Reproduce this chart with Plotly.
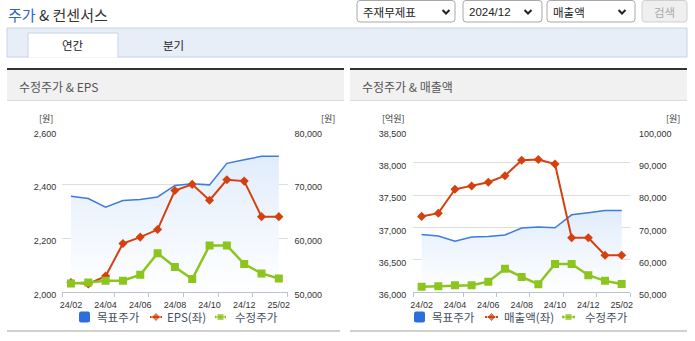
import plotly.graph_objects as go

# ---------------- data ----------------
months = ['24/02', '24/03', '24/04', '24/05', '24/06', '24/07', '24/08',
          '24/09', '24/10', '24/11', '24/12', '25/01', '25/02']
target_price = [67800, 67350, 65750, 67000, 67200, 67650, 69800,
                70100, 69900, 73900, 74550, 75200, 75200]          # 목표주가 (원)
adj_price = [51600, 51750, 52100, 52100, 53200, 57200, 54650,
             52400, 58650, 58650, 55200, 53450, 52500]             # 수정주가 (원)
eps = [2035, 2030, 2059, 2180, 2204, 2232, 2377,
       2400, 2341, 2417, 2412, 2280, 2280]                         # EPS (원)
revenue = [37170, 37220, 37590, 37640, 37700, 37800, 38040,
           38050, 37980, 36840, 36840, 36570, 36570]               # 매출액 (억원)

legend_names = ['목표주가', '수정주가']
left_names = ['EPS(좌)', '매출액(좌)']
panel_titles = ['수정주가 & EPS', '수정주가 & 매출액']

# ---------------- style ----------------
W, H = 695, 341
BLUE = '#3d7bdc'
BLUE_LEG = '#2a6fdc'
RED = '#d5400e'
GREEN = '#8cc51d'
GRID = '#dddddd'
AXIS = '#b9c3d3'
KR = 'Noto Sans CJK KR'
NUM = 'Liberation Sans'

xi = list(range(len(months)))
tick_idx = xi[::2]
tick_text = months[::2]
tick_marks = [-0.5] + [i + 0.5 for i in range(2, len(months), 2)]


def dx(a, b):
    return [a / W, b / W]


def dy(top, bottom):
    return [1 - bottom / H, 1 - top / H]


fig = go.Figure()

panels = [
    dict(x='x', xt='x3', yb='y', yl='y2', yg='y5', vals=eps, lr=[2000, 2600], ld=200,
         rr=[50000, 80000], rd=10000, xd=(62.3, 287.5), name=left_names[0],
         lstand=5, rstand=6),
    dict(x='x2', xt='x4', yb='y3', yl='y4', yg='y6', vals=revenue, lr=[36000, 38500], ld=500,
         rr=[50000, 100000], rd=10000, xd=(413.3, 630.0), name=left_names[1],
         lstand=6, rstand=8),
]

for p in panels:
    fig.add_trace(go.Scatter(
        x=xi, y=target_price, xaxis=p['x'], yaxis=p['yb'], mode='lines',
        line=dict(color=BLUE, width=1.5), fill='tozeroy',
        fillgradient=dict(type='vertical',
                          colorscale=[[0, 'rgb(255,255,255)'], [1, 'rgb(224,236,251)']],
                          start=p['rr'][0], stop=76000),
        showlegend=False, hoverinfo='skip', name=legend_names[0]))
    fig.add_trace(go.Scatter(
        x=xi, y=p['vals'], xaxis=p['x'], yaxis=p['yl'], mode='lines+markers',
        line=dict(color=RED, width=2), marker=dict(symbol='diamond', size=7, color=RED),
        showlegend=False, name=p['name']))
    fig.add_trace(go.Scatter(
        x=xi, y=adj_price, xaxis=p['x'], yaxis=p['yg'], mode='lines+markers',
        line=dict(color=GREEN, width=2.5), marker=dict(symbol='square', size=8, color=GREEN),
        showlegend=False, name=legend_names[1]))
    # empty trace to create tick-mark overlay axis
    fig.add_trace(go.Scatter(x=[None], y=[None], xaxis=p['xt'], yaxis=p['yb'],
                             showlegend=False, hoverinfo='skip'))

# ---------------- legends (pixel overlay axes x5/y7) ----------------
leg_rows = [
    dict(sq=(79, 90), t1=95, red=(150, 162), t2=165, grn=(215, 226), t3=233, name=left_names[0]),
    dict(sq=(414, 425), t1=430, red=(485, 498), t2=502, grn=(562, 575), t3=583, name=left_names[1]),
]
LY = 317
for r in leg_rows:
    a, b = r['red']
    fig.add_trace(go.Scatter(x=[a, (a + b) / 2, b], y=[LY, LY, LY], xaxis='x5', yaxis='y7',
                             mode='lines+markers', line=dict(color=RED, width=2),
                             marker=dict(symbol='diamond', size=[0, 7, 0], color=RED),
                             showlegend=False, hoverinfo='skip'))
    a, b = r['grn']
    fig.add_trace(go.Scatter(x=[a, (a + b) / 2, b], y=[LY, LY, LY], xaxis='x5', yaxis='y7',
                             mode='lines+markers', line=dict(color=GREEN, width=2.5),
                             marker=dict(symbol='square', size=[0, 7, 0], color=GREEN),
                             showlegend=False, hoverinfo='skip'))

# ---------------- axes ----------------
tickfont = dict(family=NUM, size=9, color='#333333')
layout_axes = {}
for i, p in enumerate(panels):
    xk = 'xaxis' if p['x'] == 'x' else 'xaxis' + p['x'][1:]
    xtk = 'xaxis' + p['xt'][1:]
    ybk = 'yaxis' if p['yb'] == 'y' else 'yaxis' + p['yb'][1:]
    ylk = 'yaxis' + p['yl'][1:]
    ygk = 'yaxis' + p['yg'][1:]
    layout_axes[xk] = dict(domain=dx(*p['xd']), anchor=p['yb'], range=[-0.5, 12.5],
                           tickmode='array', tickvals=tick_idx, ticktext=tick_text,
                           showline=True, linecolor=AXIS, linewidth=1, showgrid=False,
                           zeroline=False, ticks='', tickfont=tickfont, fixedrange=True,
                           ticklabelstandoff=4, automargin=False)
    layout_axes[xtk] = dict(overlaying=p['x'], anchor=p['yb'], range=[-0.5, 12.5],
                            tickmode='array', tickvals=tick_marks, ticks='outside', ticklen=4,
                            tickcolor=AXIS, showticklabels=False, showline=False,
                            showgrid=False, zeroline=False, fixedrange=True, automargin=False)
    layout_axes[ybk] = dict(domain=dy(130.5, 292), anchor=p['x'], side='right',
                            range=p['rr'], tick0=p['rr'][0], dtick=p['rd'], tickformat=',d',
                            showgrid=True, gridcolor=GRID, gridwidth=1, zeroline=False,
                            showline=False, ticks='', tickfont=tickfont, fixedrange=True,
                            ticklabelstandoff=p['rstand'], ticklabelshift=3, automargin=False)
    layout_axes[ylk] = dict(overlaying=p['yb'], anchor=p['x'], side='left', range=p['lr'],
                            tick0=p['lr'][0], dtick=p['ld'], tickformat=',d', showgrid=False,
                            zeroline=False, showline=False, ticks='', tickfont=tickfont,
                            fixedrange=True, ticklabelstandoff=p['lstand'], ticklabelshift=3,
                            automargin=False)
    layout_axes[ygk] = dict(overlaying=p['yb'], anchor=p['x'], range=p['rr'], visible=False,
                            fixedrange=True, automargin=False)

layout_axes['xaxis5'] = dict(domain=[0, 1], range=[0, W], anchor='y7', visible=False,
                             fixedrange=True, automargin=False)
layout_axes['yaxis7'] = dict(domain=[0, 1], range=[H, 0], anchor='x5', visible=False,
                             fixedrange=True, automargin=False)


# ---------------- page decoration ----------------
def rrect(x0, y0, x1, y1, r):
    return (f"M{x0 + r},{y0} L{x1 - r},{y0} Q{x1},{y0} {x1},{y0 + r} L{x1},{y1 - r} "
            f"Q{x1},{y1} {x1 - r},{y1} L{x0 + r},{y1} Q{x0},{y1} {x0},{y1 - r} "
            f"L{x0},{y0 + r} Q{x0},{y0} {x0 + r},{y0} Z")


shapes = []
annos = []


def S(**k):
    k.setdefault('xref', 'x5')
    k.setdefault('yref', 'y7')
    k.setdefault('layer', 'below')
    shapes.append(k)


def A(x, y, text, size=12, color='#333333', family=KR, xanchor='left', pad=1):
    annos.append(dict(x=x, y=y, xref='x5', yref='y7', text=text, showarrow=False,
                      xanchor=xanchor, yanchor='middle', borderpad=pad,
                      font=dict(family=family, size=size, color=color)))


# title
A(6, 14, "<span style='color:#2e63cf'>주가</span> & 컨센서스", size=15, color='#333333')

# dropdowns
dropdowns = [('주재무제표', 357, 455, 446), ('2024/12', 463, 542, 528), ('매출액', 547, 635, 622)]
for label, x0, x1, cx in dropdowns:
    S(type='path', path=rrect(x0, 0.5, x1, 22, 3), fillcolor='white',
      line=dict(color='#a8a8a8', width=1))
    S(type='path', path=f"M{cx - 3.5},{10} L{cx},{13.5} L{cx + 3.5},{10}",
      fillcolor='rgba(0,0,0,0)', line=dict(color='#222222', width=2))
    A(x0 + 4, 12, label, size=11.5, color='#222222',
      family=NUM if label[0].isdigit() else KR)
S(type='path', path=rrect(642, 0.5, 687, 22, 3), fillcolor='#efefef',
  line=dict(color='#cfcfcf', width=1))
A(664.5, 12, '검색', size=11.5, color='#aaaaaa', xanchor='center')

# tab bar
S(type='rect', x0=7, y0=28, x1=687, y1=57, fillcolor='#e8eef8', line=dict(color='#c8d3e6', width=1))
S(type='rect', x0=28, y0=33, x1=118, y1=57.6, fillcolor='white', line=dict(width=0))
S(type='path', path="M28,57.5 L28,33 L118,33 L118,57.5", fillcolor='rgba(0,0,0,0)',
  line=dict(color='#c8d3e6', width=1))
A(73, 45, '연간', size=11.5, color='#222222', xanchor='center')
A(173, 45, '분기', size=11.5, color='#222222', xanchor='center')

# panel headers and bottom lines
for (x0, x1, bx1), title in zip([(7, 344, 340), (350, 687, 687)], panel_titles):
    S(type='rect', x0=x0, y0=70, x1=x1, y1=100, fillcolor='#f1f1f1', line=dict(width=0))
    S(type='line', x0=x0, y0=69, x1=x1, y1=69, line=dict(color='#333333', width=2))
    S(type='line', x0=x0, y0=100.5, x1=x1, y1=100.5, line=dict(color='#dcdcdc', width=1))
    S(type='line', x0=x0, y0=331, x1=bx1, y1=331, line=dict(color='#d0d0d0', width=2))
    A(x0 + 10, 86.5, title, size=12, color='#555555')

# unit labels
A(46, 118, '[원]', size=9, color='#333333', xanchor='center', pad=0)
A(328, 118, '[원]', size=9, color='#333333', xanchor='center', pad=0)
A(393, 118, '[억원]', size=9, color='#333333', xanchor='center', pad=0)
A(673, 118, '[원]', size=9, color='#333333', xanchor='center', pad=0)

# legend squares and texts
for r in leg_rows:
    a, b = r['sq']
    S(type='path', path=rrect(a, LY - 5.5, b, LY + 5.5, 2), fillcolor=BLUE_LEG,
      line=dict(width=0), layer='above')
    A(r['t1'], LY, legend_names[0], size=11.5, color='#44505f')
    A(r['t2'], LY, r['name'], size=11.5, color='#44505f')
    A(r['t3'], LY, legend_names[1], size=11.5, color='#44505f')

fig.update_layout(
    width=W, height=H, autosize=False,
    margin=dict(l=0, r=0, t=0, b=0, pad=0, autoexpand=False),
    paper_bgcolor='white', plot_bgcolor='rgba(0,0,0,0)',
    showlegend=False, hovermode=False,
    shapes=shapes, annotations=annos,
    font=dict(family=KR, size=11, color='#333333'),
    **layout_axes,
)

fig.write_html('out.html', config=dict(displayModeBar=False, staticPlot=True))
